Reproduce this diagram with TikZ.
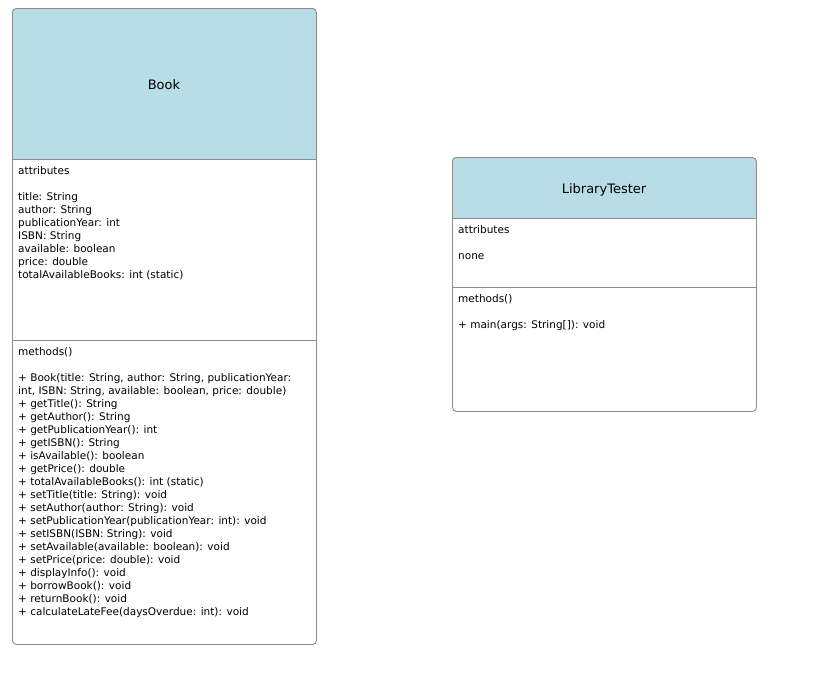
\documentclass[tikz,border=0pt]{standalone}
\usepackage{fontspec}
\setmainfont{DejaVu Sans}
\definecolor{hdrblue}{HTML}{B8DDE7}
\definecolor{boxgray}{HTML}{8C8C8C}
\tikzset{
  umlbox/.style={draw=boxgray, rounded corners=4pt, line width=0.9pt, inner sep=0pt, anchor=north west},
  divider/.style={draw=boxgray, line width=0.9pt},
  txt/.style={anchor=north west, align=left, inner sep=0pt, font=\fontsize{10.5}{13}\selectfont},
  ttl/.style={inner sep=0pt, font=\fontsize{13}{15}\selectfont}
}
\begin{document}
\begin{tikzpicture}[x=1pt,y=-1pt]
\useasboundingbox (0,0) rectangle (818,689);
% Book
\fill[hdrblue, rounded corners=4pt] (12,8) rectangle (316,159);
\fill[hdrblue] (12,20) rectangle (316,159);
\node[umlbox, minimum width=304pt, minimum height=636pt] (book) at (12,8) {};
\draw[divider] (12,159) -- (316,159);
\draw[divider] (12,340) -- (316,340);
\node[ttl] (booktitle) at (164,85) {Book};
\node[txt] (bookattr) at (18,166) {attributes\\[13pt]title: String\\author: String\\publicationYear: int\\ISBN: String\\available: boolean\\price: double\\totalAvailableBooks: int (static)};
\node[txt] (bookmeth) at (18,347) {methods()\\[13pt]+ Book(title: String, author: String, publicationYear:\\int, ISBN: String, available: boolean, price: double)\\+ getTitle(): String\\+ getAuthor(): String\\+ getPublicationYear(): int\\+ getISBN(): String\\+ isAvailable(): boolean\\+ getPrice(): double\\+ totalAvailableBooks(): int (static)\\+ setTitle(title: String): void\\+ setAuthor(author: String): void\\+ setPublicationYear(publicationYear: int): void\\+ setISBN(ISBN: String): void\\+ setAvailable(available: boolean): void\\+ setPrice(price: double): void\\+ displayInfo(): void\\+ borrowBook(): void\\+ returnBook(): void\\+ calculateLateFee(daysOverdue: int): void};
% LibraryTester
\fill[hdrblue, rounded corners=4pt] (452,157) rectangle (756,218);
\fill[hdrblue] (452,169) rectangle (756,218);
\node[umlbox, minimum width=304pt, minimum height=254pt] (tester) at (452,157) {};
\draw[divider] (452,218) -- (756,218);
\draw[divider] (452,287) -- (756,287);
\node[ttl] (testertitle) at (604,189.5) {LibraryTester};
\node[txt] (testerattr) at (458,225) {attributes\\[13pt]none};
\node[txt] (testermeth) at (458,294) {methods()\\[13pt]+ main(args: String[]): void};
\end{tikzpicture}
\end{document}
